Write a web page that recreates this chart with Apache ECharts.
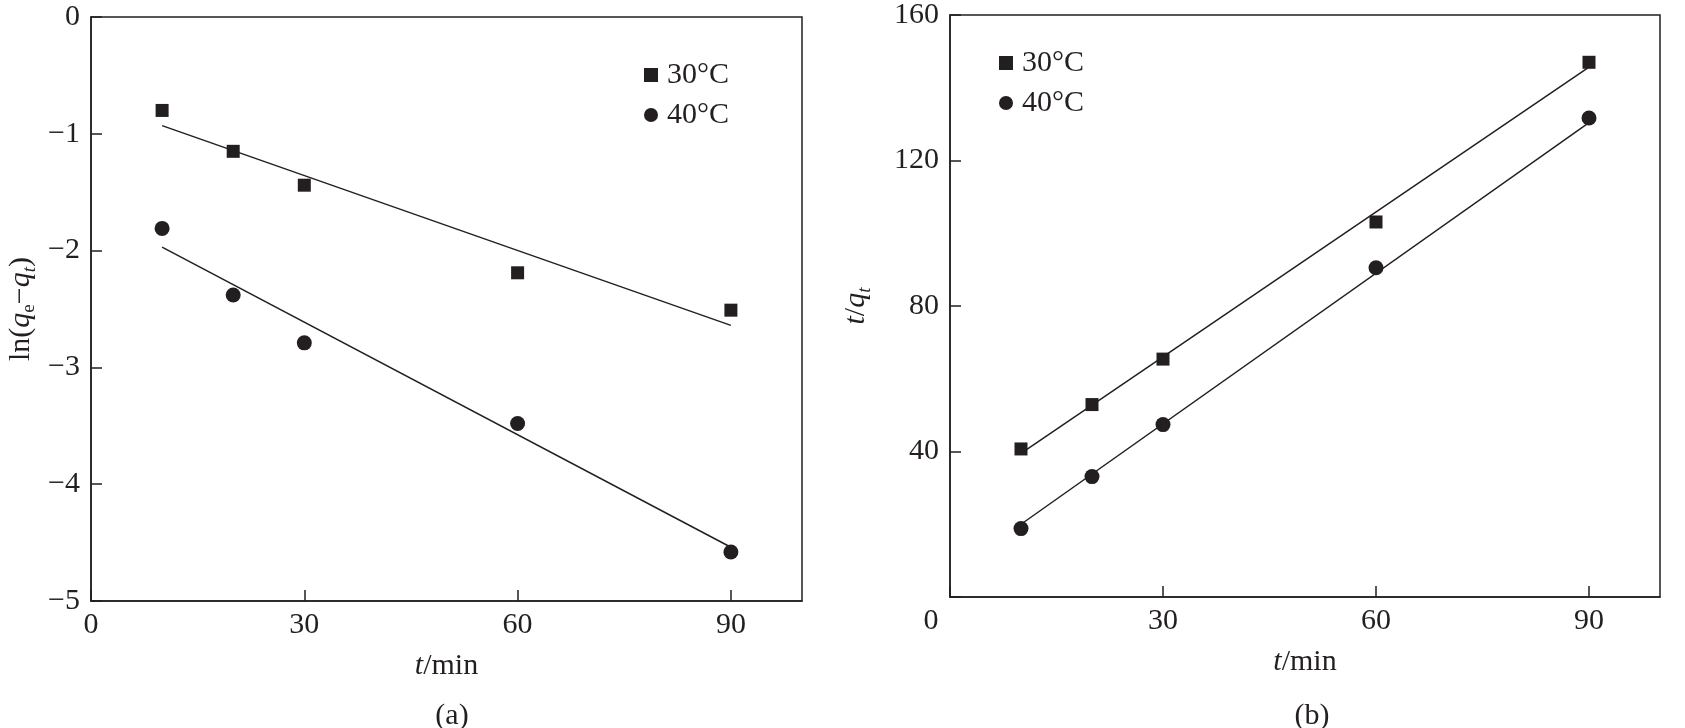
<!DOCTYPE html>
<html>
<head>
<meta charset="utf-8">
<script src="https://cdn.jsdelivr.net/npm/echarts@6/dist/echarts.min.js"></script>
<style>
html, body { margin: 0; padding: 0; background: #fff; }
#main { width: 1685px; height: 728px; }
</style>
</head>
<body>
<div id="main"></div>
<script>
/*----- 数据 -----*/
var timeList = [10, 20, 30, 60, 90];
// (a) ln(qe-qt)
var lnList30 = [-0.80, -1.15, -1.44, -2.19, -2.51];
var lnList40 = [-1.81, -2.38, -2.79, -3.48, -4.58];
var lnFitX = [10, 90];
var lnFit30 = [-0.93, -2.64];
var lnFit40 = [-1.97, -4.54];
// (b) t/qt
var tqList30 = [40.7, 52.9, 65.4, 103.1, 147.0];
var tqList40 = [18.8, 33.1, 47.4, 90.5, 131.7];
var tqFitX = [10, 90];
var tqFit30 = [39.5, 145.7];
var tqFit40 = [20.0, 130.4];
var seriesNames = ['30°C', '40°C'];

var FONT = '"Liberation Serif", "Times New Roman", serif';
var INK = '#231f20';
var FS = 30;

function pairs(xs, ys){
	var out = [];
	for(var i = 0; i < xs.length; i++){
		out.push([xs[i], ys[i]]);
	}
	return out;
}

var richBase = {
	r: {fontFamily: FONT, fontSize: FS, color: INK},
	i: {fontFamily: FONT, fontSize: FS, color: INK, fontStyle: 'italic'},
	sb: {fontFamily: FONT, fontSize: 19, color: INK, verticalAlign: 'bottom', padding: [16, 0, 0, 0]},
	sbi: {fontFamily: FONT, fontSize: 19, color: INK, fontStyle: 'italic', verticalAlign: 'bottom', padding: [16, 0, 0, 0]},
	z: {fontFamily: FONT, fontSize: FS, color: INK, padding: [0, 38, 0, 0]}
};

function xAxisOf(gridIndex, shiftZero){
	return {
		type: 'value',
		gridIndex: gridIndex,
		min: 0,
		max: 100,
		interval: 30,
		name: '{i|t}{r|/min}',
		nameLocation: 'middle',
		nameGap: 50,
		nameTextStyle: {rich: richBase},
		axisLine: {onZero: false, lineStyle: {color: INK, width: 1.5}},
		axisTick: {inside: true, length: 11, lineStyle: {color: INK, width: 1.5}},
		axisLabel: {
			margin: 9,
			fontFamily: FONT,
			fontSize: FS,
			color: INK,
			showMaxLabel: false,
			rich: richBase,
			formatter: function(v){
				if(v === 100){ return ''; }
				if(v === 0 && shiftZero){ return '{z|0}'; }
				return '' + v;
			}
		},
		splitLine: {show: false}
	};
}

function yAxisOf(gridIndex, min, max, step, name, gap, fmt){
	return {
		type: 'value',
		gridIndex: gridIndex,
		min: min,
		max: max,
		interval: step,
		name: name,
		nameLocation: 'middle',
		nameGap: gap,
		nameTextStyle: {rich: richBase},
		axisLine: {onZero: false, lineStyle: {color: INK, width: 1.5}},
		axisTick: {inside: true, length: 11, lineStyle: {color: INK, width: 1.5}},
		axisLabel: {margin: 11, fontFamily: FONT, fontSize: FS, color: INK, formatter: fmt},
		splitLine: {show: false}
	};
}

function legendOf(left, top){
	return {
		orient: 'vertical', left: left, top: top, itemGap: 10,
		itemWidth: 14, itemHeight: 14,
		textStyle: {fontFamily: FONT, fontSize: FS, color: INK, padding: [0, 0, 0, 4]},
		data: [{name: seriesNames[0], icon: 'rect'}, {name: seriesNames[1], icon: 'circle'}]
	};
}

var option = {
	backgroundColor: '#fff',
	animation: false,
	title: [
		{text: '(a)', left: 447, top: 696, textAlign: 'center',
		 textStyle: {fontFamily: FONT, fontSize: FS, fontWeight: 'normal', color: INK}},
		{text: '(b)', left: 1307, top: 696, textAlign: 'center',
		 textStyle: {fontFamily: FONT, fontSize: FS, fontWeight: 'normal', color: INK}}
	],
	legend: [legendOf(639, 55), legendOf(994, 43)],
	grid: [
		{left: 91, top: 17, width: 711, height: 584, show: true, borderColor: INK, borderWidth: 1.5},
		{left: 950, top: 13, width: 710, height: 584, show: true, borderColor: INK, borderWidth: 1.5}
	],
	xAxis: [xAxisOf(0, false), xAxisOf(1, true)],
	yAxis: [
		yAxisOf(0, -5, 0, 1, '{r|ln(}{i|q}{sb|e}{r|−}{i|q}{sbi|t}{r|)}', 52,
			function(v){ return ('' + v).replace('-', '\u2212'); }),
		yAxisOf(1, 0, 160, 40, '{i|t}{r|/}{i|q}{sbi|t}', 76,
			function(v){ return v === 0 ? '' : '' + v; })
	],
	series: []
};

function addPanel(gi, list30, list40, fitX, fit30, fit40){
	option.series.push({
		name: seriesNames[0], type: 'scatter', xAxisIndex: gi, yAxisIndex: gi,
		symbol: 'rect', symbolSize: 13, itemStyle: {color: INK, opacity: 1},
		data: pairs(timeList, list30), z: 3
	});
	option.series.push({
		name: seriesNames[1], type: 'scatter', xAxisIndex: gi, yAxisIndex: gi,
		symbol: 'circle', symbolSize: 15, itemStyle: {color: INK, opacity: 1},
		data: pairs(timeList, list40), z: 3
	});
	option.series.push({
		name: 'fit30', type: 'line', xAxisIndex: gi, yAxisIndex: gi,
		showSymbol: false, symbol: 'none', lineStyle: {color: INK, width: 1.5},
		data: pairs(fitX, fit30), z: 2
	});
	option.series.push({
		name: 'fit40', type: 'line', xAxisIndex: gi, yAxisIndex: gi,
		showSymbol: false, symbol: 'none', lineStyle: {color: INK, width: 1.5},
		data: pairs(fitX, fit40), z: 2
	});
}
addPanel(0, lnList30, lnList40, lnFitX, lnFit30, lnFit40);
addPanel(1, tqList30, tqList40, tqFitX, tqFit30, tqFit40);

echarts.init(document.getElementById('main')).setOption(option, true);
</script>
</body>
</html>
